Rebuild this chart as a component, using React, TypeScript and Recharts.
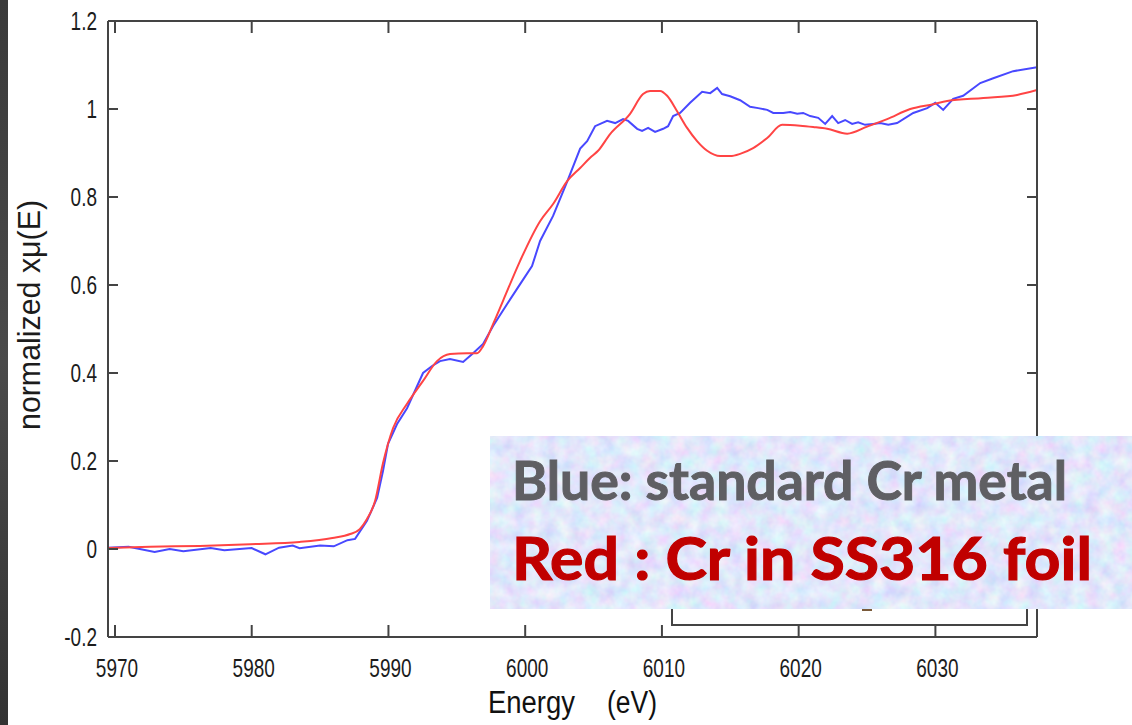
import { Line, LineChart, XAxis, YAxis } from "recharts";

const energyTicks = [5970, 5980, 5990, 6000, 6010, 6020, 6030];
const muTicks = [-0.2, 0, 0.2, 0.4, 0.6, 0.8, 1, 1.2];

// blue: standard Cr metal
const blueEnergy = [
  5969.5, 5971, 5972.9, 5974, 5975, 5977, 5978, 5980, 5981, 5982, 5983, 5983.5,
  5985, 5986, 5987, 5987.56, 5988.43, 5989.17, 5989.6, 5989.97, 5990.63,
  5991.36, 5992.53, 5993.19, 5993.77, 5994.5, 5995.46, 5996.19, 5996.92,
  5997.65, 5998.68, 5999.63, 6000.5, 6001.09, 6002.04, 6003.07, 6004.02,
  6004.53, 6005.11, 6005.99, 6006.58, 6007.16, 6007.53, 6008.19, 6008.55,
  6008.99, 6009.5, 6010.09, 6010.45, 6010.82, 6011.33, 6012.06, 6012.94,
  6013.53, 6014.04, 6014.4, 6014.99, 6015.72, 6016.45, 6017.04, 6017.7,
  6018.14, 6018.87, 6019.38, 6019.89, 6020.33, 6020.84, 6021.43, 6021.94,
  6022.45, 6022.89, 6023.4, 6023.91, 6024.35, 6024.86, 6025.45, 6025.96,
  6026.55, 6027.2, 6028.38, 6029.4, 6029.99, 6030.57, 6031.3, 6032.03,
  6033.28, 6034.23, 6035.69, 6037.43,
];
const blueMu = [
  0.003, 0.005, -0.007, 0, -0.005, 0.002, -0.003, 0.002, -0.012, 0.003, 0.008,
  0.002, 0.008, 0.006, 0.02, 0.023, 0.064, 0.116, 0.177, 0.239, 0.284, 0.32,
  0.4, 0.416, 0.427, 0.432, 0.425, 0.445, 0.466, 0.507, 0.557, 0.602, 0.643,
  0.7, 0.757, 0.835, 0.91, 0.927, 0.961, 0.973, 0.968, 0.977, 0.973, 0.955,
  0.95, 0.957, 0.948, 0.955, 0.961, 0.984, 0.991, 1.014, 1.039, 1.036, 1.048,
  1.034, 1.029, 1.02, 1.005, 1.002, 0.998, 0.991, 0.991, 0.993, 0.989, 0.991,
  0.984, 0.98, 0.966, 0.984, 0.968, 0.975, 0.966, 0.97, 0.964, 0.966, 0.968,
  0.964, 0.968, 0.991, 1.002, 1.014, 0.998, 1.023, 1.03, 1.059, 1.07, 1.086,
  1.095,
];

// red: Cr in SS316 foil
const redEnergy = [
  5969.5, 5972.56, 5976.2, 5979.9, 5983.5, 5985.9, 5987.2, 5987.9, 5988.43,
  5989.02, 5989.6, 5990.34, 5991.36, 5992.53, 5993.55, 5994.5, 5995.75,
  5996.48, 5996.92, 5997.65, 5998.38, 5999.63, 6001.09, 6002.04, 6003.07,
  6004.02, 6004.75, 6005.33, 6006.21, 6007.67, 6008.62, 6009.13, 6009.87,
  6010.38, 6011.11, 6011.84, 6012.57, 6013.31, 6014.26, 6014.99, 6015.72,
  6016.67, 6017.7, 6018.79, 6020.11, 6021.06, 6022.08, 6023.55, 6025.01,
  6026.47, 6028.16, 6029.84, 6030.86, 6033.5, 6035.98, 6037.43,
];
const redMu = [
  0.002, 0.005, 0.007, 0.011, 0.016, 0.025, 0.034, 0.045, 0.068, 0.109, 0.195,
  0.275, 0.33, 0.382, 0.427, 0.443, 0.445, 0.445, 0.461, 0.511, 0.564, 0.655,
  0.745, 0.784, 0.836, 0.866, 0.889, 0.905, 0.943, 0.989, 1.034, 1.041, 1.041,
  1.03, 0.995, 0.957, 0.927, 0.905, 0.893, 0.893, 0.898, 0.911, 0.934, 0.964,
  0.962, 0.959, 0.955, 0.944, 0.96, 0.977, 1.0, 1.011, 1.018, 1.025, 1.032,
  1.043,
];

const W = 1132;
const H = 725;
const AXIS = "#444";
const FONT = "'Liberation Sans', Arial, sans-serif";
const SLIDE_FONT = "Lato, 'Open Sans', sans-serif";

const blueData = blueEnergy.map((e, i) => ({ e, mu: blueMu[i] }));
const redData = redEnergy.map((e, i) => ({ e, mu: redMu[i] }));

function squeeze(cx: number, sx: number) {
  return `translate(${cx} 0) scale(${sx} 1) translate(${-cx} 0)`;
}

function BottomTick(props: any) {
  const { x, y, payload } = props;
  return (
    <g>
      <line x1={x} x2={x} y1={y} y2={y - 12} stroke={AXIS} strokeWidth={2} />
      <text
        x={x + 2}
        y={y + 40}
        textAnchor="middle"
        fontSize={26}
        fontFamily={FONT}
        fill="#1c1c1c"
        transform={squeeze(x + 2, 0.73)}
      >
        {String(payload.value)}
      </text>
    </g>
  );
}

function TopTick(props: any) {
  const { x, y } = props;
  return <line x1={x} x2={x} y1={y} y2={y + 12} stroke={AXIS} strokeWidth={2} />;
}

function LeftTick(props: any) {
  const { x, y, payload } = props;
  return (
    <g>
      <line x1={x} x2={x + 10} y1={y} y2={y} stroke={AXIS} strokeWidth={2} />
      <text
        x={x - 11}
        y={y + 9}
        textAnchor="end"
        fontSize={25}
        fontFamily={FONT}
        fill="#1c1c1c"
        transform={squeeze(x - 11, 0.76)}
      >
        {String(payload.value)}
      </text>
    </g>
  );
}

function RightTick(props: any) {
  const { x, y } = props;
  return <line x1={x} x2={x - 10} y1={y} y2={y} stroke={AXIS} strokeWidth={2} />;
}

export default function App() {
  const axisLine = { stroke: AXIS, strokeWidth: 2 };
  return (
    <div
      style={{
        position: "fixed",
        left: 0,
        top: 0,
        width: W,
        height: H,
        background: "#fff",
        overflow: "hidden",
      }}
    >
      <LineChart width={W} height={H} margin={{ top: 0, right: 0, bottom: 0, left: 0 }}>
        <XAxis
          xAxisId="bottom"
          type="number"
          dataKey="e"
          domain={[5969.49, 6037.43]}
          allowDataOverflow
          ticks={energyTicks}
          interval={0}
          height={88}
          tickSize={0}
          tickMargin={0}
          tickLine={false}
          axisLine={axisLine}
          tick={BottomTick}
        />
        <XAxis
          xAxisId="top"
          orientation="top"
          type="number"
          dataKey="e"
          domain={[5969.49, 6037.43]}
          allowDataOverflow
          ticks={energyTicks}
          interval={0}
          height={21}
          tickSize={0}
          tickMargin={0}
          tickLine={false}
          axisLine={axisLine}
          tick={TopTick}
        />
        <YAxis
          yAxisId="left"
          type="number"
          domain={[-0.2, 1.2]}
          allowDataOverflow
          ticks={muTicks}
          interval={0}
          width={108}
          tickSize={0}
          tickMargin={0}
          tickLine={false}
          axisLine={axisLine}
          tick={LeftTick}
        />
        <YAxis
          yAxisId="right"
          orientation="right"
          type="number"
          domain={[-0.2, 1.2]}
          allowDataOverflow
          ticks={muTicks}
          interval={0}
          width={95}
          tickSize={0}
          tickMargin={0}
          tickLine={false}
          axisLine={axisLine}
          tick={RightTick}
        />
        <Line
          xAxisId="bottom"
          yAxisId="left"
          data={blueData}
          dataKey="mu"
          type="linear"
          stroke="#4848ff"
          strokeWidth={2}
          dot={false}
          isAnimationActive={false}
        />
        <Line
          xAxisId="bottom"
          yAxisId="left"
          data={redData}
          dataKey="mu"
          type="monotone"
          stroke="#ff4444"
          strokeWidth={2}
          dot={false}
          isAnimationActive={false}
        />
      </LineChart>

      <svg
        width={W}
        height={H}
        style={{ position: "absolute", left: 0, top: 0, pointerEvents: "none" }}
      >
        <defs>
          <filter id="mottle" x="0" y="0" width="100%" height="100%">
            <feTurbulence type="fractalNoise" baseFrequency="0.07" numOctaves={3} seed={7} />
            <feColorMatrix
              type="matrix"
              values="0.45 0 0 0 0.53  0 0.4 0 0 0.6  0 0 0.12 0 0.9  0 0 0 0 1"
            />
          </filter>
          <linearGradient id="strip" x1="0" y1="0" x2="0" y2="1">
            <stop offset="0" stopColor="#3a3a3a" />
            <stop offset="0.5" stopColor="#4a4a4a" />
            <stop offset="1" stopColor="#333" />
          </linearGradient>
        </defs>

        <rect x={0} y={0} width={8} height={H} fill="url(#strip)" />

        <text
          x={40}
          y={315}
          transform="rotate(-90 40 315)"
          textAnchor="middle"
          fontSize={31}
          fontFamily={FONT}
          fill="#1c1c1c"
          textLength={230}
          lengthAdjust="spacingAndGlyphs"
        >
          normalized xμ(E)
        </text>

        <text x={488} y={713} fontSize={31} fontFamily={FONT} fill="#111" textLength={87} lengthAdjust="spacingAndGlyphs">
          Energy
        </text>
        <text x={607} y={713} fontSize={31} fontFamily={FONT} fill="#111" textLength={50} lengthAdjust="spacingAndGlyphs">
          (eV)
        </text>

        {/* remains of the original legend frame */}
        <path d="M672 600 V625 H1027 V600" fill="none" stroke={AXIS} strokeWidth={2} />
        <line x1={862} x2={872} y1={610} y2={610} stroke="#7a5a3a" strokeWidth={2} />

        <rect x={490} y={436} width={642} height={173} filter="url(#mottle)" />

        <text
          x={512}
          y={500}
          fontSize={53}
          fontWeight={700}
          fontFamily={SLIDE_FONT}
          fill="#5f5f63"
          stroke="#5f5f63"
          strokeWidth={1}
          textLength={555}
          lengthAdjust="spacingAndGlyphs"
        >
          Blue: standard Cr metal
        </text>
        <text
          x={512}
          y={580}
          fontSize={60}
          fontWeight={700}
          fontFamily={SLIDE_FONT}
          fill="#c00000"
          stroke="#c00000"
          strokeWidth={1.2}
          textLength={580}
          lengthAdjust="spacingAndGlyphs"
        >
          Red : Cr in SS316 foil
        </text>
      </svg>
    </div>
  );
}
